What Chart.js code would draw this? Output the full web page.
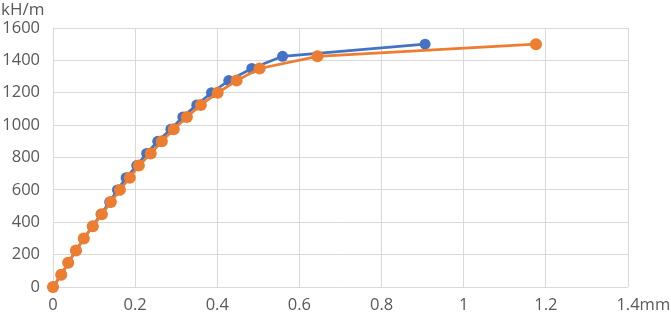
<!DOCTYPE html>
<html>
<head>
<meta charset="utf-8">
<script src="https://cdn.jsdelivr.net/npm/chart.js@4/dist/chart.umd.min.js"></script>
<style>
  html, body { margin: 0; padding: 0; background: #fff; }
  #wrap { width: 671px; height: 317px; }
</style>
</head>
<body>
<div id="wrap"><canvas id="chart"></canvas></div>
<script>
const loads = [0, 75, 150, 225, 300, 375, 450, 525, 600, 675, 750, 825, 900, 975, 1050, 1125, 1200, 1275, 1350, 1425, 1500];
const blueDisp = [0, 0.02, 0.037, 0.056, 0.075, 0.096, 0.117, 0.138, 0.157, 0.178, 0.204, 0.228, 0.255, 0.287, 0.316, 0.35, 0.386, 0.428, 0.484, 0.559, 0.906];
const orangeDisp = [0, 0.02, 0.037, 0.056, 0.075, 0.097, 0.119, 0.141, 0.163, 0.187, 0.209, 0.238, 0.265, 0.294, 0.326, 0.36, 0.401, 0.447, 0.503, 0.644, 1.176];
const yUnit = 'kH/m';
const xUnit = 'mm';

const toPoints = (xs) => xs.map((x, i) => ({ x: x, y: loads[i] }));
const font = { family: 'Open Sans', size: 16.5 };
const gray = '#595959';

// unit labels: "kH/m" above the y axis, "mm" right after the last x tick
const unitLabels = {
  id: 'unitLabels',
  afterDraw(chart) {
    const c = chart.ctx;
    const xs = chart.scales.x;
    c.save();
    c.font = '17px "Open Sans"';
    c.fillStyle = gray;
    c.textBaseline = 'middle';
    c.textAlign = 'left';
    c.fillText(yUnit, 1, 10);
    c.font = '16.5px "Open Sans"';
    const last = xs.max;
    const px = xs.getPixelForValue(last);
    const w = c.measureText(String(last)).width;
    c.fillText(xUnit, px + w / 2, xs.top + 18);
    c.restore();
  }
};

new Chart(document.getElementById('chart'), {
  type: 'scatter',
  data: {
    datasets: [
      {
        data: toPoints(blueDisp),
        showLine: true,
        borderColor: '#4472C4',
        backgroundColor: '#4472C4',
        borderWidth: 2.75,
        pointRadius: 5.5,
        pointBorderWidth: 0,
        clip: false,
        order: 2
      },
      {
        data: toPoints(orangeDisp),
        showLine: true,
        borderColor: '#ED7D31',
        backgroundColor: '#ED7D31',
        borderWidth: 2.75,
        pointRadius: 6,
        pointBorderWidth: 0,
        clip: false,
        order: 1
      }
    ]
  },
  options: {
    responsive: true,
    maintainAspectRatio: false,
    animation: false,
    layout: { padding: { top: 28, right: 43, left: 0, bottom: 0 } },
    plugins: { legend: { display: false }, tooltip: { enabled: false } },
    scales: {
      x: {
        type: 'linear', min: 0, max: 1.4,
        afterFit: (s) => { s.height = 30; },
        ticks: {
          stepSize: 0.2, color: gray, font: font, padding: 8, maxRotation: 0,
          callback: (v) => String(Math.round(v * 10) / 10)
        },
        grid: { color: '#d9d9d9', lineWidth: 1, drawTicks: false },
        border: { display: false }
      },
      y: {
        min: 0, max: 1600,
        afterFit: (s) => { s.width = 53; },
        ticks: {
          stepSize: 200, color: gray, font: font, padding: 13,
          callback: (v) => String(v)
        },
        grid: { color: '#d9d9d9', lineWidth: 1, drawTicks: false },
        border: { display: false }
      }
    }
  },
  plugins: [unitLabels]
});
</script>
</body>
</html>
